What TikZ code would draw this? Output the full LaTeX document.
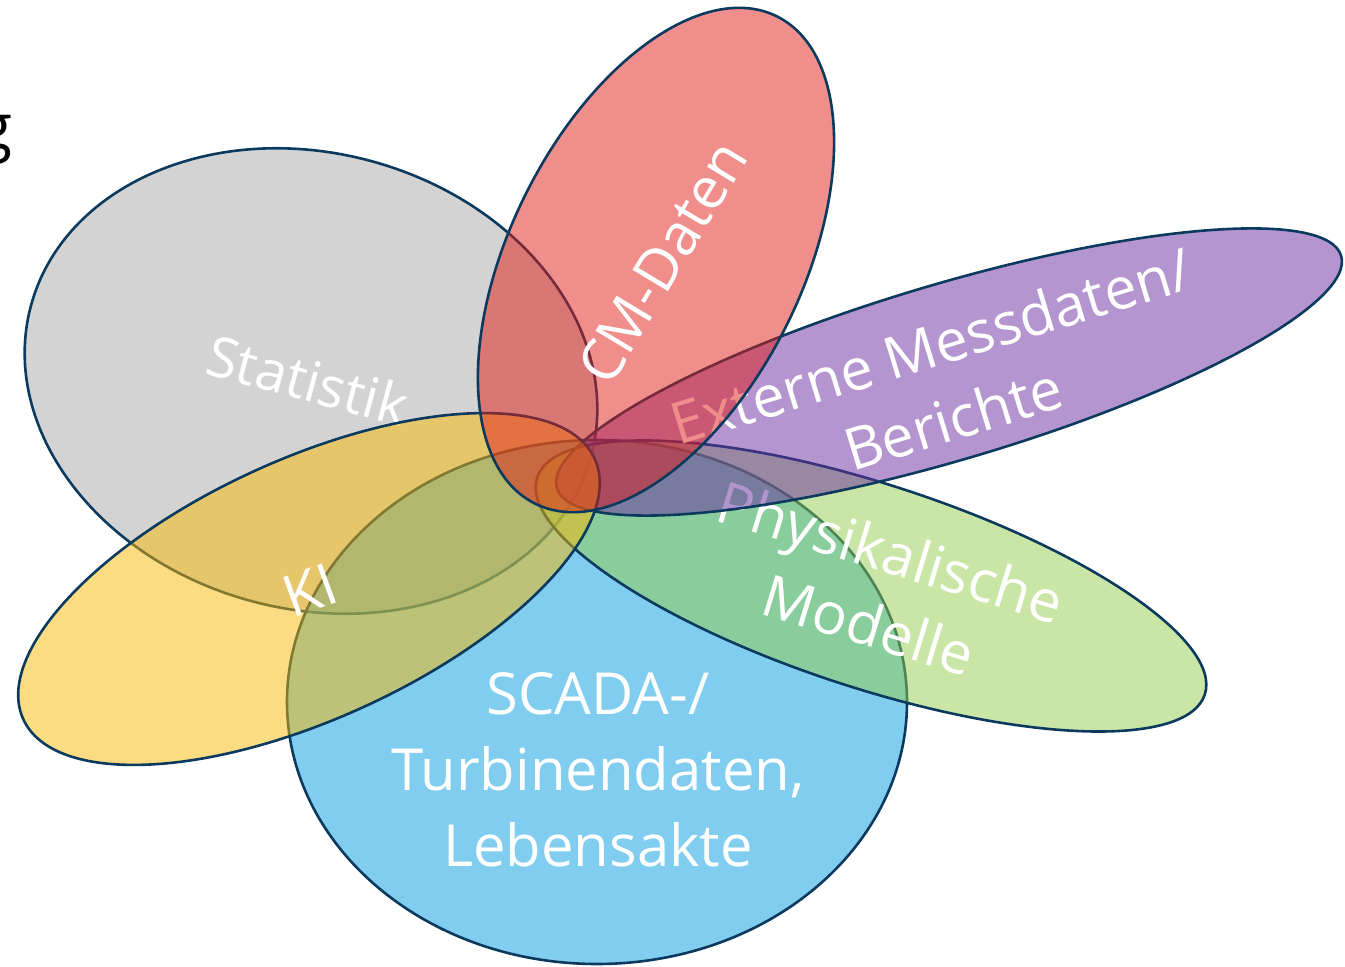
\documentclass[tikz,border=0pt]{standalone}
\usepackage{fontspec}
\setmainfont{Open Sans}
\usepackage{tikz}
\usetikzlibrary{positioning}
\definecolor{rand}{RGB}{12,58,94}
\definecolor{grau}{RGB}{167,167,167}
\definecolor{rot}{RGB}{225,29,25}
\definecolor{lila}{RGB}{105,43,161}
\definecolor{gruen}{RGB}{147,205,77}
\definecolor{blau}{RGB}{1,155,223}
\definecolor{gelb}{RGB}{249,185,5}
\tikzstyle{Blatt} = [draw=rand, line width=1.3pt, fill opacity=0.5]
\tikzstyle{Label} = [text=white, align=center,
font=\fontsize{29}{38}\selectfont]

\begin{document}
\begin{tikzpicture}[x=0.5pt, y=0.5pt]
    \useasboundingbox (0,0) rectangle (1345,966);
    \node [anchor=base east, inner sep=0pt, font=\fontsize{32}{38}\selectfont] (rest) at (13,816) {g};
    % Statistik
    \draw[Blatt, fill=grau, shift={(311,585)}, rotate=-15] (0,0) ellipse [x radius=145pt, y radius=114pt];
    \node [Label, rotate=-15, font=\fontsize{28}{38}\selectfont] (stat) at (308,586) {Statistik};
    % SCADA
    \draw[Blatt, fill=blau, shift={(597,264)}] (0,0) ellipse [x radius=155pt, y radius=131pt];
    \node [Label] (scada) at (598,196) {SCADA-/\\Turbinendaten,\\Lebensakte};
    % Physik
    \draw[Blatt, fill=gruen, shift={(871,380)}, rotate=-18] (0,0) ellipse [x radius=175.5pt, y radius=51pt];
    \node [Label, rotate=-17] (phys) at (880,378) {Physikalische\\Modelle};
    % Externe Messdaten
    \draw[Blatt, fill=lila, shift={(949,594)}, rotate=16.5] (0,0) ellipse [x radius=204.5pt, y radius=44pt];
    \node [Label, rotate=17] (ext) at (942,584) {Externe Messdaten/\\Berichte};
    % KI
    \draw[Blatt, fill=gelb, shift={(309,377)}, rotate=24.5] (0,0) ellipse [x radius=157pt, y radius=65pt];
    \node [Label, rotate=20] (ki) at (310,376) {KI};
    % CM-Daten
    \draw[Blatt, fill=rot, shift={(656,706)}, rotate=63.6] (0,0) ellipse [x radius=136pt, y radius=73pt];
    \node [Label, rotate=59] (cm) at (662,704) {CM-Daten};
\end{tikzpicture}
\end{document}
